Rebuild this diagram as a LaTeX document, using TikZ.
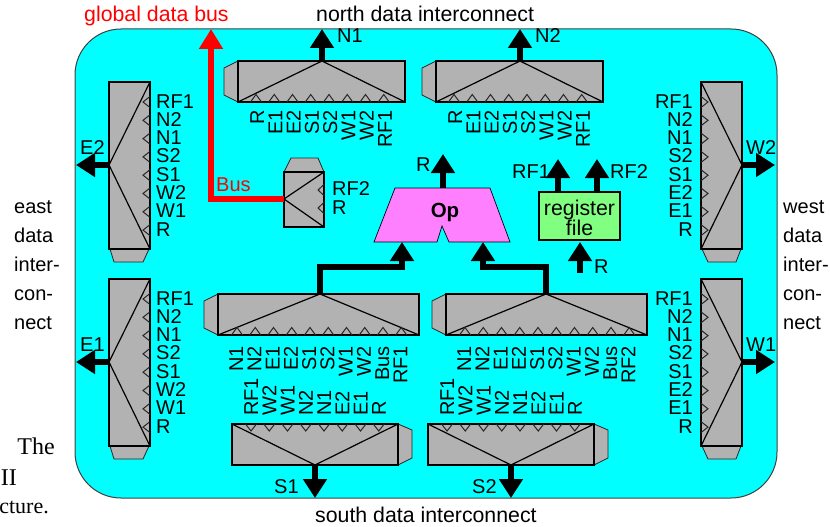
\documentclass[tikz,border=0pt]{standalone}
\usepackage{fontspec}
\setmainfont{Liberation Sans}
\newfontfamily\bodyserif{Liberation Serif}
\usetikzlibrary{arrows.meta}
\definecolor{muxgray}{HTML}{B2B2B2}
\definecolor{opfill}{HTML}{FF80FF}
\definecolor{regfill}{HTML}{80FF80}
\definecolor{panelcyan}{HTML}{00FFFF}
\newcommand\portfont{\fontsize{20}{20}\selectfont}
\newcommand\bigfont{\fontsize{21.3}{21.3}\selectfont}
\tikzset{
  x=1pt,y=-1pt,
  muxbox/.style={draw=black,line width=1.9pt,fill=muxgray},
  muxcap/.style={draw=black!85,line width=0.8pt,fill=muxgray},
  muxdiag/.style={draw=black,line width=1.2pt},
  chevron/.style={draw=black!85,line width=1pt},
  portlabel/.style={inner sep=0pt,font=\portfont},
  biglabel/.style={inner sep=0pt,font=\bigfont},
  sidelabel/.style={inner sep=0pt,anchor=base west,font=\fontsize{20}{20}\selectfont},
  bodytext/.style={inner sep=0pt,font=\bodyserif\fontsize{22}{22}\selectfont},
  bigarrow/.style={draw=black,line width=5.5pt,-{Triangle[length=19pt,width=23pt]}},
  busarrow/.style={draw=red,line width=5.5pt,-{Triangle[length=20pt,width=23pt]}},
}
\newcommand\eastmux[3]{%
  \begin{scope}[shift={(0,#2)}]
    \draw[muxcap] (110,167) -- (114,180) -- (143,180) -- (149,167) -- cycle;
    \draw[muxbox] (109,0) rectangle (150,167);
    \draw[muxdiag] (150,0) -- (109,83) -- (150,167);
    \coordinate (#1apex) at (109,83);
    \coordinate (#1tip) at (76,83);
    \foreach \lab [count=\i from 0] in {#3} {
      \pgfmathsetmacro\cy{20+18.3*\i}
      \draw[chevron] (150,\cy-5.5) -- (143,\cy) -- (150,\cy+5.5);
      \node[portlabel,anchor=base west] (#1-\i) at (156,\cy+6) {\lab};
    }
  \end{scope}}
\newcommand\westmux[3]{%
  \begin{scope}[shift={(0,#2)}]
    \draw[muxcap] (702,167) -- (708,180) -- (736,180) -- (741,167) -- cycle;
    \draw[muxbox] (701,0) rectangle (742,167);
    \draw[muxdiag] (701,0) -- (742,83) -- (701,167);
    \coordinate (#1apex) at (742,83);
    \coordinate (#1tip) at (775,83);
    \foreach \lab [count=\i from 0] in {#3} {
      \pgfmathsetmacro\cy{20+18.3*\i}
      \draw[chevron] (701,\cy-5.5) -- (708,\cy) -- (701,\cy+5.5);
      \node[portlabel,anchor=base east] (#1-\i) at (693,\cy+6) {\lab};
    }
  \end{scope}}
% #1 name, #2 left x, #3 top y, #4 width, #5 apex offset, #6 first offset, #7 label top (relative), #8 labels, #9 label offset
\newcommand\upmux[9]{%
  \begin{scope}[shift={(#2,#3)}]
    \draw[muxcap] (0,0) -- (-14,7) -- (-14,34) -- (0,41) -- cycle;
    \draw[muxbox] (0,0) rectangle (#4,41);
    \draw[muxdiag] (0,41) -- (#5,0) -- (#4,41);
    \coordinate (#1apex) at (#5,0);
    \foreach \lab [count=\i from 0] in {#8} {
      \pgfmathsetmacro\cx{#6+18.25*\i}
      \draw[chevron] (\cx-5.5,41) -- (\cx,33.5) -- (\cx+5.5,41);
      \node[portlabel,rotate=90,anchor=base east] (#1-\i) at (\cx+#9,#7) {\lab};
    }
  \end{scope}}
\newcommand\downmux[5]{%
  \begin{scope}[shift={(#2,424)}]
    \draw[muxcap] (#3,0) -- (#3+14,6) -- (#3+14,34) -- (#3,41) -- cycle;
    \draw[muxbox] (0,0) rectangle (#3,41);
    \draw[muxdiag] (0,0) -- (#4,41) -- (#3,0);
    \coordinate (#1apex) at (#4,41);
    \coordinate (#1tip) at (#4,74);
    \foreach \lab [count=\i from 0] in {#5} {
      \pgfmathsetmacro\cx{19+18.25*\i}
      \draw[chevron] (\cx-5.5,0) -- (\cx,7) -- (\cx+5.5,0);
      \node[portlabel,rotate=90,anchor=base west] (#1-\i) at (\cx+7,-8) {\lab};
    }
  \end{scope}}
\begin{document}
\begin{tikzpicture}
\useasboundingbox (0,0) rectangle (830,527);
\draw[draw=black!75,line width=1pt,fill=panelcyan,rounded corners=46pt] (75,29) rectangle (777,498);

\eastmux{etwo}{82}{RF1,N2,N1,S2,S1,W2,W1,R}
\eastmux{eone}{279}{RF1,N2,N1,S2,S1,W2,W1,R}
\westmux{wtwo}{82}{RF1,N2,N1,S2,S1,E2,E1,R}
\westmux{wone}{279}{RF1,N2,N1,S2,S1,E2,E1,R}
\upmux{none}{238}{61}{167}{84}{18}{49}{R,E1,E2,S1,S2,W1,W2,RF1}{8}
\upmux{ntwo}{436}{61}{167}{84}{18}{49}{R,E1,E2,S1,S2,W1,W2,RF1}{8}
\upmux{opa}{218}{294}{201}{102}{19}{52}{N1,N2,E1,E2,S1,S2,W1,W2,Bus,RF1}{6}
\upmux{opb}{446}{294}{201}{100}{19}{52}{N1,N2,E1,E2,S1,S2,W1,W2,Bus,RF2}{6}
\downmux{sone}{232}{166}{83}{RF1,W2,W1,N2,N1,E2,E1,R}
\downmux{stwo}{428}{166}{83}{RF1,W2,W1,N2,N1,E2,E1,R}

\draw[muxcap] (284,172) -- (291,158) -- (318,158) -- (324,172) -- cycle;
\draw[muxbox] (284,172) rectangle (324,227);
\coordinate (busapex) at (284,199);
\draw[muxdiag] (324,172) -- (busapex) -- (324,227);
\foreach \y in {190,208} \draw[chevron] (324,\y-5.5) -- (318,\y) -- (324,\y+5.5);
\node[portlabel,anchor=base west] (busrf) at (332,195.7) {RF2};
\node[portlabel,anchor=base west] (busr) at (332,214) {R};

\draw[draw=black,line width=0.7pt,fill=opfill]
  (395,188) -- (490,188) -- (510,242) -- (449,242) -- (442,226) -- (437,242) -- (374,242) -- cycle;
\node[inner sep=0pt,font=\bfseries\fontsize{20.5}{20.5}\selectfont,anchor=base] (optext) at (445,217) {Op};
\coordinate (opout) at (443,188);
\coordinate (opouttip) at (443,154);
\coordinate (opinl) at (402,242);
\coordinate (opinr) at (483,242);

\node[draw=black,line width=1.9pt,fill=regfill,minimum width=81pt,minimum height=48pt,inner sep=0pt] (reg) at (579.5,216) {};
\node[biglabel,anchor=base] (regtexta) at (579.5,215) {register};
\node[biglabel,anchor=base] (regtextb) at (579.5,235) {file};
\coordinate (rfaout) at (558,192); \coordinate (rfatip) at (558,159);
\coordinate (rfbout) at (597,192); \coordinate (rfbtip) at (597,159);
\coordinate (rftail) at (580,273); \coordinate (rfin) at (580,242);

\coordinate (nonetip) at (322,29);
\coordinate (ntwotip) at (520,29);
\coordinate (glob) at (211,29);
\draw[busarrow] (busapex) -| (glob);
\draw[bigarrow] (noneapex) -- (nonetip);
\draw[bigarrow] (ntwoapex) -- (ntwotip);
\draw[bigarrow] (etwoapex) -- (etwotip);
\draw[bigarrow] (eoneapex) -- (eonetip);
\draw[bigarrow] (wtwoapex) -- (wtwotip);
\draw[bigarrow] (woneapex) -- (wonetip);
\draw[bigarrow] (soneapex) -- (sonetip);
\draw[bigarrow] (stwoapex) -- (stwotip);
\draw[bigarrow] (opout) -- (opouttip);
\draw[bigarrow] (rfaout) -- (rfatip);
\draw[bigarrow] (rfbout) -- (rfbtip);
\draw[bigarrow] (rftail) -- (rfin);
\coordinate (jl) at (320,267);
\coordinate (jr) at (546,267);
\draw[bigarrow] (opaapex) |- (jl) -| (opinl);
\draw[bigarrow] (opbapex) |- (jr) -| (opinr);

\node[portlabel,anchor=base west] (lnone) at (337,43) {N1};
\node[portlabel,anchor=base west] (lntwo) at (535,43) {N2};
\node[portlabel,anchor=base west] (letwo) at (80,154) {E2};
\node[portlabel,anchor=base west] (leone) at (80,351) {E1};
\node[portlabel,anchor=base west] (lwtwo) at (746,154) {W2};
\node[portlabel,anchor=base west] (lwone) at (746,351) {W1};
\node[portlabel,anchor=base west] (lsone) at (274,493) {S1};
\node[portlabel,anchor=base west] (lstwo) at (472,493) {S2};
\node[portlabel,anchor=base west] (lopr) at (416,171) {R};
\node[portlabel,anchor=base west] (lrfa) at (512,178) {RF1};
\node[portlabel,anchor=base west] (lrfb) at (610,178) {RF2};
\node[portlabel,anchor=base west] (lrfr) at (594,273) {R};
\node[portlabel,anchor=base west,text=red] (lbus) at (216,191) {Bus};

\node[biglabel,anchor=base west,text=red] (tglob) at (84,22) {global data bus};
\node[biglabel,anchor=base west] (tnorth) at (316,22) {north data interconnect};
\node[biglabel,anchor=base west] (tsouth) at (315,522) {south data interconnect};

\node[sidelabel] (ea) at (14,213) {east};
\node[sidelabel] (eb) at (14,242) {data};
\node[sidelabel] (ec) at (14,271) {inter-};
\node[sidelabel] (ed) at (14,300) {con-};
\node[sidelabel] (ee) at (14,329) {nect};
\node[sidelabel] (wa) at (783,213) {west};
\node[sidelabel] (wb) at (783,242) {data};
\node[sidelabel] (wc) at (783,271) {inter-};
\node[sidelabel] (wd) at (783,300) {con-};
\node[sidelabel] (we) at (783,329) {nect};

\node[bodytext,anchor=base east,font=\bodyserif\fontsize{24}{24}\selectfont] (ba) at (55,454) {The};
\node[bodytext,anchor=base east,font=\bodyserif\fontsize{24}{24}\selectfont] (bb) at (17,485) {II};
\node[bodytext,anchor=base east] (bc) at (49,513) {cture.};
\end{tikzpicture}
\end{document}
